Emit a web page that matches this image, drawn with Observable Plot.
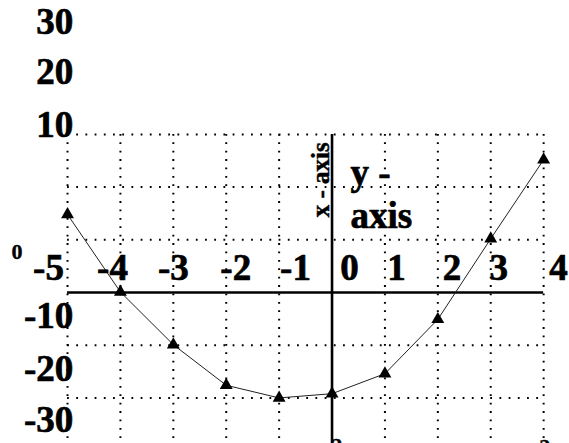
<!DOCTYPE html>
<html>
<head>
<meta charset="utf-8">
<script src="https://cdn.jsdelivr.net/npm/d3@7"></script>
<script src="https://cdn.jsdelivr.net/npm/@observablehq/plot@0.6"></script>
<style>
  html, body { margin: 0; padding: 0; background: #fff; }
</style>
</head>
<body>
<div id="chart"></div>
<script>
// ---- data ----
const xValues = [-5, -4, -3, -2, -1, 0, 1, 2, 3, 4];
const yValues = [14.8, 0.1, -9.9, -17.6, -20.0, -19.2, -15.4, -5.1, 10.2, 25.2];

// grid / tick values
const gridX = [-5, -4, -3, -2, -1, 1, 2, 3, 4];
const gridY = [30, 20, 10, -10, -20, -30];

// x tick labels (as drawn, offset from the grid in the original)
const xTickLabels = ["-5", "-4", "-3", "-2", "-1", "0", "1", "2", "3", "4"];
const xTickAt = [-5.36, -4.15, -3.0, -1.82, -0.69, 0.33, 1.22, 2.27, 3.15, 4.28];
const xTickRow = 2.4;

// y tick labels (as drawn)
const yTickLabels = ["30", "20", "10", "-10", "-20", "-30"];
const yTickAt = [49.0, 39.5, 29.6, -6.8, -16.7, -26.5];
const yTickCol = -4.89;
const zeroLabel = ["0"];

// annotations
const annotations = [
  {text: "y -\naxis", x: 0.35, y: 12.3},
];
const verticalTitle = [{text: "x - axis", x: -0.21, y: 21.4}];
const bottomFragments = [{text: "2", x: 0.09, y: -27.5}, {text: "2", x: 4.02, y: -27.7}];

const points = xValues.map((x, i) => ({x, y: yValues[i]}));
const xLabels = xTickLabels.map((t, i) => ({t, x: xTickAt[i], y: xTickRow}));
const yLabels = yTickLabels.map((t, i) => ({t, y: yTickAt[i], x: yTickCol}));

const font = "'Liberation Serif', 'Times New Roman', serif";
const bold = {fontWeight: "bold", fill: "#000", stroke: "#000", strokeWidth: 0.7};

const chart = Plot.plot({
  width: 569,
  height: 443,
  margin: 0,
  x: {domain: [-6.267, 4.489], axis: null},
  y: {domain: [-28.65, 55.41], axis: null},
  style: {background: "#fff", fontFamily: font},
  marks: [
    // dotted grid
    Plot.ruleX(gridX, {y1: 30, y2: -31, stroke: "#000", strokeWidth: 2, strokeDasharray: "1.8,6.6"}),
    Plot.ruleY(gridY, {x1: -5, x2: 4, stroke: "#000", strokeWidth: 2, strokeDasharray: "1.8,7.4"}),
    // solid axes
    Plot.ruleY([0], {x1: -5, x2: 4, stroke: "#000", strokeWidth: 2.6}),
    Plot.ruleX([0], {y1: 30, y2: -31, stroke: "#000", strokeWidth: 2.6}),
    // curve
    Plot.line(points, {x: "x", y: "y", stroke: "#222", strokeWidth: 1}),
    Plot.dot(points, {x: "x", y: "y", symbol: "triangle", r: 4.8, fill: "#000", stroke: "none"}),
    // x tick labels
    Plot.text(xLabels, {x: "x", y: "y", text: "t", fontSize: 37, ...bold,
      textAnchor: "middle", lineAnchor: "bottom"}),
    // y tick labels
    Plot.text(yLabels, {x: "x", y: "y", text: "t", fontSize: 37, ...bold,
      textAnchor: "end", lineAnchor: "bottom"}),
    Plot.text(zeroLabel, {x: -5.955, y: 6.45, text: d => d, fontSize: 22, ...bold, strokeWidth: 0.4,
      textAnchor: "middle", lineAnchor: "bottom"}),
    // annotations
    Plot.text(annotations, {x: "x", y: "y", text: "text", fontSize: 37, ...bold,
      textAnchor: "start", lineAnchor: "bottom", lineHeight: 1.16}),
    Plot.text(verticalTitle, {x: "x", y: "y", text: "text", fontSize: 25, ...bold, strokeWidth: 0.5,
      rotate: -90, textAnchor: "middle", lineAnchor: "middle"}),
    Plot.text(bottomFragments, {x: "x", y: "y", text: "text", fontSize: 22, ...bold, strokeWidth: 0.4,
      textAnchor: "middle", lineAnchor: "top"})
  ]
});
document.getElementById("chart").appendChild(chart);
</script>
</body>
</html>
